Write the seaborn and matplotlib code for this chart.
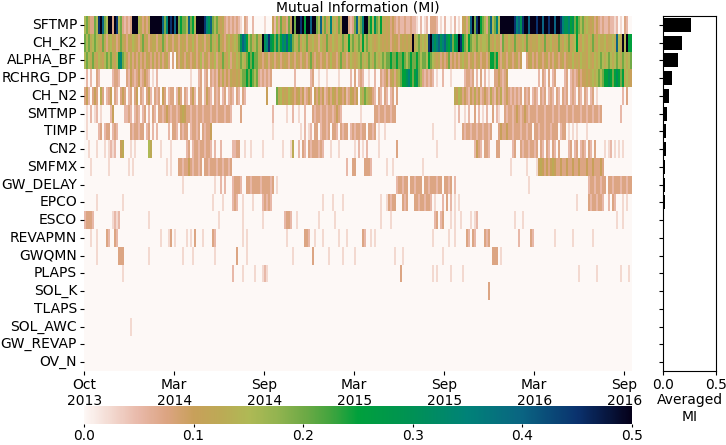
import numpy as np
import pandas as pd
import matplotlib.pyplot as plt
import seaborn as sns
from matplotlib.colors import LinearSegmentedColormap

# parameters (rows of the heatmap, top to bottom)
params = ["SFTMP", "CH_K2", "ALPHA_BF", "RCHRG_DP", "CH_N2", "SMTMP", "TIMP", "CN2",
          "SMFMX", "GW_DELAY", "EPCO", "ESCO", "REVAPMN", "GWQMN", "PLAPS", "SOL_K",
          "TLAPS", "SOL_AWC", "GW_REVAP", "OV_N"]

# averaged MI per parameter (right panel)
avg_mi = [0.26, 0.177, 0.146, 0.082, 0.057, 0.038, 0.028, 0.028, 0.019, 0.019,
          0.017, 0.004, 0.002, 0.002, 0.001, 0.001, 0.0, 0.001, 0.0, 0.0]

start_date = "2013-10-01"
n_days = 1096
days_per_char = 4

# MI level codes, one char = 4 days
level_codes = {".": 0.0, "1": 0.025, "2": 0.05, "3": 0.075, "4": 0.1, "5": 0.125,
               "6": 0.15, "7": 0.2, "8": 0.25, "9": 0.3, "a": 0.35, "b": 0.4,
               "c": 0.45, "d": 0.5}

Z25 = "..... ..... ..... ..... ....."
Z24 = "..... ..... ..... ..... ...."

sftmp = ["67533 76cdb 76dd3 dc673 2323d", "dd653 435dd ddddb 7adcd bd787",
         "76b78 6dddd ca9b7 67545 32323", "2321. 32..2 ..... 1...4 26374",
         "5374d 7ddcd 8ddbd d76b5 746a5", "6475d dd323 7b67a dd786 97685",
         "54534 32322 32232 21.2. 12.33", "32.1. 2..1. 2.1.4 536bd 7cd87",
         "637b6 7a6dd ddddd cab9c ddbdd", "dcddb ddcdd bddca 99a89 78767",
         "56545 34323 22322 12.1. 32.."]
ch_k2 = ["76756 76547 53564 53475 43546", "54357 45345 53547 53543 54354",
         "53546 43545 35475 64754 35645", "6579b a8675 6756d 9ac98 7978a",
         "9b8a7 65746 57456 45365 47546", "54657 56867 56758 67565 45654",
         "54534 54354 5454d 56756 56cda", "9ab9a b98a7 89dc8 76876 57656",
         "65754 64537 54654 75456 47545", "54654 74564 54754 65745 68546",
         "54657 54655 64556 5b65d 6d88"]
alpha_bf = ["67657 54654 67675 469a7 64353", "43534 35435 34353 453.3 .4354",
            "35434 53463 54354 63547 54635", "46576 57878 77543 45345 34534",
            "54354 35435 43574 35434 53464", "43574 53465 45675 65765 76567",
            "67787 78778 76787 78767 76876", "54534 34734 34356 45345 34534",
            "43588 78435 43543 4534. .3453", "43543 45343 54345 34546 45465",
            "54654 65676 56765 67657 6567"]
rchrg_dp = [".2.2. .32.. ....2 332.. .3243", "23423 432.1 .2... ..... .....",
            "...1. ..23. 23.32 32435 34354", "45467 78787 67323 2323. .....",
            "..... 2.... ...23 ..1.. .1...", "..1.. ...2. 3.232 ..1.. 2..32",
            "34245 35678 89a87 89763 23232", ".1..2 ...1. ..... 23323 .2.3.",
            "2.1.. 33432 34... ..... .....", "..2.3 2.3.2 3.... 23.23 23434",
            "45456 56767 88987 89878 5654"]
ch_n2 = ["342.3 43.53 .234. 32.34 3.23.", "34.32 .342. 323.4 3.233 .243.",
         "32.34 2.33. 2432. 323.2 3.232", ".32.3 2.... ..... .4... .7564",
         "54654 34534 2343. 43534 23435", "43543 42354 34.65 76543 2.32.",
         "32.23 .3... ..... ..... .....", "..... ..... 54653 43243 53423",
         "43253 24352 34323 2323. 323.2", "32.32 3.232 .32.3 23.23 2.32.",
         "32.23 .1... ..... ....2 .3.."]
smtmp = [".1.2. 12.1. ...24 ..... 2232.", "232.2 3.2.3 2.332 34323 32345",
         "43323 32332 33323 32333 2332.", "...3. ..... ..... ....2 .....",
         ".1..2 ..1.. 2...3 23323 32332", "3432. ..... ...1. ..... 33233",
         "23323 3.... ..... ..... .....", "..... ..... 1.2.. 1.2.. 3.2.1",
         ".2..3 .21.. 32332 34323 43233", "32333 23332 33233 32332 33323",
         "32332 3323. ..... ...2. ...."]
timp = [".1... ..23. 233.2 32... ...32", "33233 .23.2 .2... ..2.3 32.32",
        "33.23 323.3 2334. ..... .....", "..... ..... ..... ....1 .....",
        "..... ...1. 2.12. 33.23 323.3", "32.32 33.23 23323 3.332 3.1..",
        "1.... ..... ..... ..... ....1", "..... ..... 1...3 23323 32332",
        "3323. ..343 34332 33323 3233.", "33233 23323 33.23 3.1.1 .1...",
        ".1... ..... ..... ..... ...."]
cn2 = ["..1.. .1... 1.121 2..45 ...1.", "1.... ..65. ...1. ...1. .....",
       ".23.2 33233 2332. 2..2. ....2", "233.. 1..1. ....1 ..... ....1",
       "...15 ..2.3 2.323 33232 ...1.", "..1.. ..... 1.2.1 .2... ..1..",
       "..... .3... ..... ..... .....", ".1... ..... ..... ..... 2432.",
       "332.. .33.. ....2 3..32 33233", "23.32 .32.3 2.3.. ..23. 23.23",
       "2.32. 3.... 1.12. 1.1.1 ...."]
smfmx = ["...1. ..... ..1.. ..... ..1.1", "..... ..... ..... .1.1. ..332",
         "33432 3323. 33233 32332 3323.", Z25,
         Z25, "..... .2..3 3.... 3332. .....",
         ".1..1 ..... ..... ....1 .....", Z25,
         "..... ..... ...1. ..... .1...", ".1454 34345 43343 34334 33433",
         "34334 33343 ..... ..... ...."]
gw_delay = [Z25, "..... ..... ..... ..... ....1",
            "..... ..... ..... 1..2. 2...2", "3332. .3323 33323 33323 .1...",
            Z25, Z25,
            "..... .2332 33.33 2333. 33233", "3233. 3323. 2.... ..... .....",
            "..... ..... ..... ..... ..1..", Z25,
            "..233 23323 3.332 33323 3233"]
epco = ["..... .1... ..... ....1 .....", Z25,
        "..... ..... ....1 ....1 ....2", "32..1 ....1 ....2 3232. .....",
        "..... ..... ..... ....1 ....1", "....1 ..... ..... ..... ...1.",
        ".1323 3...3 23... 33233 2332.", "1...2 .3.2. 1.1.. ..... .....",
        Z25, "..... ..... ..... ..... .1...",
        "..323 32332 ..2.3 2...1 .1.."]
esco = ["23332 ..... ....1 212.. .....", "..... ..1.. ..... ..... .....",
        "..... ..... ..... ..1.. .....", "....1 ..... ....1 ..... .....",
        "2332. .1... ..... ..1.. .....", "1.... ..... ..... ..... ...1.",
        "...1. ..... ..... ..... .....", "23.23 ...1. 1..1. ...1. 12...",
        "..... ..... ..... 1...1 .....", Z25,
        "..... ..... ..... .1..1 ...."]
revapmn = ["...1. .1... .32.. 32... .....", "..... ..... ...1. ..13. 1....",
           ".1.1. 3...1 ....3 2.... .....", "....1 .1... ..... ..... .....",
           ".1... ..... 332.. 1...1 .....", "..1.. .1... ....3 2..1. 1....",
           "..... ..... ..... ..... ....1", "..... ..1.. 1.... .32.3 2....",
           "323.. ..... ..... ..2.. ...32", "..... ..... 1.... ....1 .....",
           "....1 ..... ..... ..... ...."]
gwqmn = ["..... .1... ..... ..333 .....", "..... ..1.. ..... ..... ....1",
         "....1 ..... ..... 1.... .....", ".3... .1... ..... ..... .....",
         "....1 ..... ....3 ..... ..1..", "....1 ..... 1.... ..... .....",
         "..... 1...1 ..... ..... .....", "....1 ..... ..... ..... .....",
         "....3 33.1. ..... ..... .....", Z25, Z24]
plaps = ["..... ..... ..... ....1 .....", Z25,
         "..... ..... ..... ..... ....2", "....1 ..... 1...1 21... .....",
         Z25, Z25,
         "..... ...3. ..... ..... ....1", ".1... ...1. ....1 ..... .....",
         Z25, "..... ..... ..... ..... ..1..",
         "..... .1... ..... ...1. ..1."]
sol_k = [Z25] * 8 + ["..3.. ..... ..... ..... .....", Z25, Z24]
tlaps = [Z25] * 10 + [Z24]
sol_awc = ["..... ..... ..... ..... ...1."] + [Z25] * 9 + [Z24]
gw_revap = [Z25] * 10 + [Z24]
ov_n = [Z25] * 10 + [Z24]

row_codes = [sftmp, ch_k2, alpha_bf, rchrg_dp, ch_n2, smtmp, timp, cn2, smfmx,
             gw_delay, epco, esco, revapmn, gwqmn, plaps, sol_k, tlaps, sol_awc,
             gw_revap, ov_n]


def expand(chunks):
    s = "".join("".join(chunks).split())
    vals = np.repeat([level_codes[c] for c in s], days_per_char)
    vals = vals[:n_days]
    if len(vals) < n_days:
        vals = np.concatenate([vals, np.zeros(n_days - len(vals))])
    return vals


dates = pd.date_range(start_date, periods=n_days, freq="D")
mi = pd.DataFrame([expand(r) for r in row_codes], index=params,
                  columns=dates.strftime("%b\n%Y"))

# colour map picked off the reference colour bar
cmap = LinearSegmentedColormap.from_list("mi_earth", [
    (0.00, "#fdf8f6"), (0.10, "#e8b8a8"), (0.15, "#dca482"), (0.20, "#c8a05a"),
    (0.25, "#bcaa55"), (0.30, "#afb955"), (0.35, "#94b450"), (0.40, "#70aa46"),
    (0.45, "#42a43e"), (0.50, "#00a03c"), (0.60, "#009155"), (0.70, "#008278"),
    (0.80, "#0a6482"), (0.90, "#0a326e"), (1.00, "#050019")], N=512)

W, H = 726, 445
fig = plt.figure(figsize=(W / 100, H / 100), dpi=100)
ax_hm = fig.add_axes([84 / W, 1 - 371 / H, 548 / W, 355 / H])
ax_cb = fig.add_axes([84 / W, 1 - 424 / H, 548 / W, 18 / H])
ax_bar = fig.add_axes([663 / W, 1 - 371 / H, 53 / W, 355 / H])

sns.heatmap(mi, ax=ax_hm, cbar_ax=ax_cb, cmap=cmap, vmin=0, vmax=0.5,
            xticklabels=180, yticklabels=True,
            cbar_kws={"orientation": "horizontal", "ticks": [0, 0.1, 0.2, 0.3, 0.4, 0.5]})
ax_hm.set_title("Mutual Information (MI)", fontsize=10, pad=3)
ax_hm.tick_params(axis="x", labelrotation=0, labelsize=10, length=3, pad=2)
ax_hm.tick_params(axis="y", labelrotation=0, labelsize=10, length=3, pad=2)
ax_hm.set_xlabel("")
ax_cb.tick_params(labelsize=10, length=2.5, pad=1)
ax_hm.collections[0].colorbar.outline.set_visible(False)

sns.barplot(x=avg_mi, y=params, ax=ax_bar, color="black", orient="h", width=0.8,
            saturation=1)
ax_bar.set_xlim(0, 0.5)
ax_bar.set_xticks([0, 0.5])
ax_bar.set_xticklabels(["0.0", "0.5"])
ax_bar.set_yticklabels([])
ax_bar.set_ylabel("")
ax_bar.set_xlabel("Averaged\nMI", fontsize=10, labelpad=1)
ax_bar.tick_params(labelsize=10)
ax_bar.tick_params(axis="x", length=3, pad=2)
ax_bar.tick_params(axis="y", length=3)

fig.savefig("out.png", dpi=100)
